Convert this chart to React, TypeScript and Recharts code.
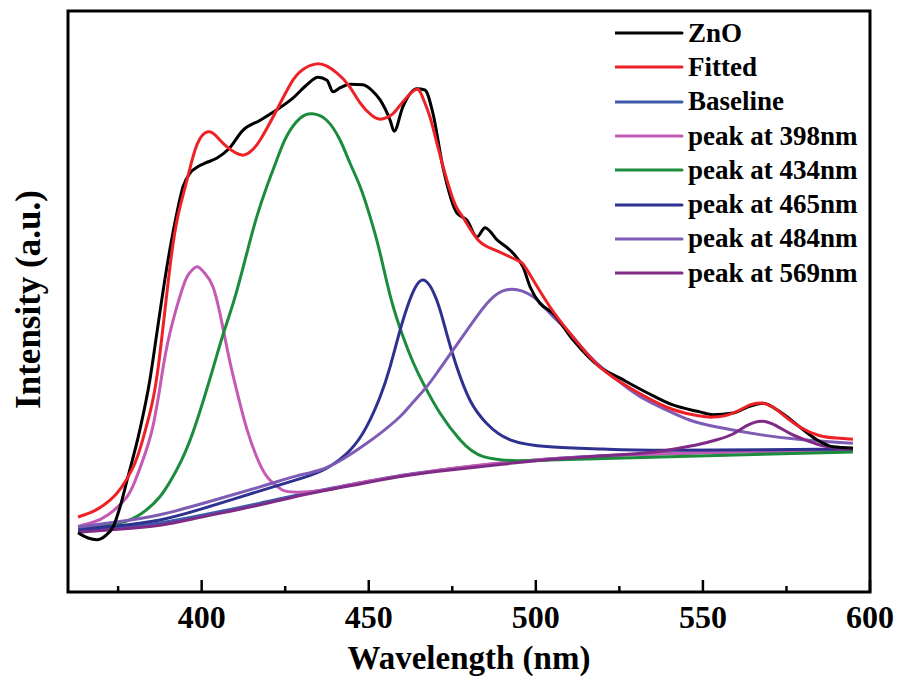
import { Legend, Line, LineChart, ReferenceArea, XAxis, YAxis } from "recharts";

// [wavelength nm, intensity a.u.]
const znoData: [number, number][] = [
  [363, 10.2], [366, 9.3], [368.7, 9.0], [371, 9.6], [373.5, 11.2], [375.5, 14.5], [377.7, 19.3], [381.5, 27.9],
  [384.5, 36.5], [386.6, 44.6], [388.5, 52], [390.5, 59], [392.5, 65], [394.4, 69.7], [396.5, 72.1], [398.6, 73.1],
  [401, 73.8], [404.6, 74.7], [408, 76.2], [412.4, 79.5], [417.5, 81.2], [422.5, 83.0], [427.3, 85.0], [431.5, 87.3],
  [434.8, 88.6], [437.5, 88.1], [439.3, 86.1], [441.5, 86.8], [444.4, 87.4], [448.3, 87.3], [451, 86.3], [453.4, 84.7],
  [456.4, 81.2], [457.6, 79.3], [460.2, 83.5], [464.4, 86.6], [466.8, 86.4], [469.2, 82.4], [472.2, 73.1], [476.4, 65.2],
  [479.4, 64.0], [482.4, 61.1], [484.8, 62.7], [488.4, 60.6], [493.2, 58.3], [496.2, 55.9], [498.3, 52.5], [501.2, 49.7],
  [505.1, 48.0], [511.1, 43.4], [519.2, 38.7], [525.2, 36.8], [533.3, 34.3], [541, 32.2], [549.1, 31.0], [553, 30.5],
  [559, 30.8], [563.2, 31.8], [568, 32.5], [573.1, 31.0], [579, 28.4], [584.1, 26.2], [588.9, 25.0], [594.9, 24.8],
];

const fittedData: [number, number][] = [
  [363, 12.9], [368, 14.0], [372.6, 15.8], [376, 18], [379.5, 21.5], [382, 25.5], [384.5, 30.8], [387, 38.7],
  [390.5, 55.9], [393, 65], [395.6, 70.9], [398.6, 77.0], [401.9, 79.2], [404.5, 78.4], [407.6, 76.6], [412.1, 75.2],
  [415, 76], [417.5, 77.8], [422.5, 83.0], [427.3, 88.1], [431, 90.2], [434.5, 90.9], [437.5, 90.5], [440.5, 89.3],
  [444, 87.2], [447.4, 84.2], [451, 82], [454, 81.4], [457, 82.2], [459.4, 83.8], [463.8, 86.4], [466, 85.3],
  [468.3, 81.8], [470.5, 77], [473.4, 70.9], [476, 66.5], [478.2, 64.5], [482.7, 60.6], [488, 58.8], [494.4, 57.1],
  [497.4, 55.4], [504.2, 49.1], [511.1, 43.9], [519.2, 38.7], [529.1, 34.8], [539.2, 31.8], [547, 30.5], [553, 30.1],
  [559, 30.8], [564.1, 32.2], [568, 32.5], [571, 31.8], [574, 30.5], [579, 28.4], [585, 26.9], [590, 26.5], [594.9, 26.3],
];

const baselineData: [number, number][] = [
  [363, 10.7], [375, 11.1], [387.5, 11.9], [400, 13.2], [417.5, 15.3], [432, 17.1], [447.4, 18.8], [461, 20.2],
  [474.3, 21.2], [490, 22.2], [509.3, 23.1], [530, 23.7], [559, 24.1], [594.9, 24.4],
];

const peak398Data: [number, number][] = [
  [363, 11.3], [367.5, 12.0], [372, 13.3], [377.7, 16.4], [381, 20.5], [385, 27.5], [388, 37], [390.5, 44.6],
  [394.4, 52.5], [396.5, 55.0], [398.6, 56.0], [400.7, 55.0], [403.4, 52.5], [406, 46.5], [408.5, 39.5], [411, 33.5],
  [413.6, 27.9], [416.5, 23.2], [419.6, 19.8], [423, 18], [427.3, 17.2], [437.5, 17.6], [447.4, 18.8], [474.3, 21.2],
  [509.3, 23.1], [559, 24.1], [594.9, 24.4],
];

const peak434Data: [number, number][] = [
  [363, 11.0], [375.6, 11.9], [382, 13.5], [387.5, 16.4], [392.5, 21], [397.4, 27.5], [403.4, 38.5], [406.5, 44.5],
  [410, 50.8], [413.5, 58.3], [416.5, 64.6], [419.5, 69.8], [422.5, 74.4], [425.4, 78.4], [429.4, 81.5], [433.1, 82.3],
  [437.4, 81.2], [441.4, 77.8], [444.4, 73.8], [447.4, 69.8], [450.4, 64.6], [453.4, 58.3], [456.6, 50.6], [460.3, 43.9],
  [463.3, 39.5], [466.3, 35.9], [471.3, 30.8], [477.3, 26.2], [484.3, 23.3], [494.3, 22.6], [504.2, 22.7], [540, 23.3],
  [594.9, 24.1],
];

const peak465Data: [number, number][] = [
  [363, 10.8], [375, 11.4], [387.5, 12.4], [400, 14.3], [417.5, 17.4], [430, 19.6], [437.4, 21.3], [444.4, 24.4],
  [449.4, 28.5], [453.4, 33.6], [456.4, 38.8], [459.4, 45.1], [462.3, 50.3], [466.1, 53.7], [470.3, 50.3], [473.3, 44.5],
  [476.3, 38.8], [480.3, 33.0], [485.3, 29.0], [492.3, 26.2], [504.2, 25.0], [520, 24.6], [540, 24.4], [594.9, 24.6],
];

const peak484Data: [number, number][] = [
  [363, 11.2], [375, 12.1], [387.5, 13.3], [400, 15.2], [417.5, 18.1], [428, 19.9], [435.4, 21.0], [442.3, 22.9],
  [449.4, 25.6], [454.3, 27.7], [459.4, 30.2], [463, 32.5], [467.3, 35.3], [471, 38.2], [475.3, 41.7], [482.3, 47.4],
  [487.3, 50.8], [492.8, 52.1], [499.2, 50.8], [504.2, 48.0], [510, 44.6], [515.3, 41.1], [520, 38.5], [524.3, 36.5],
  [531, 33.7], [539.2, 31.3], [546, 29.6], [554.2, 28.4], [568, 27.0], [580, 26.2], [594.9, 25.6],
];

const peak569Data: [number, number][] = [
  [363, 10.3], [375, 10.8], [387.5, 11.5], [400, 12.9], [417.5, 15.0], [432, 16.9], [447.4, 18.6], [461, 20.0],
  [474.3, 21.0], [490, 22.0], [509.3, 23.0], [530, 23.8], [539.2, 24.4], [548, 25.3], [554.2, 26.2], [559, 27.2],
  [563, 28.6], [567.7, 29.4], [572, 28.6], [576, 27.3], [580, 26.3], [585, 25.3], [590, 24.8], [594.9, 24.6],
];

const xTicks = [375, 400, 425, 450, 475, 500, 525, 550, 575, 600];

const legendNames = ["ZnO", "Fitted", "Baseline", "peak at 398nm", "peak at 434nm", "peak at 465nm", "peak at 484nm", "peak at 569nm"];
const legendColors = ["#000000", "#ee2226", "#3f5bab", "#c45ab3", "#1a8c3c", "#2e3190", "#7e5cb6", "#7f2a87"];

const FONT = '"Liberation Serif", "Times New Roman", serif';

const toPoints = (d: [number, number][]) => d.map(([x, y]) => ({ x, y }));

function WaveTick(props: any) {
  const { x, y, payload } = props;
  const major = payload.value % 50 === 0;
  return (
    <g>
      <line x1={x} y1={y} x2={x} y2={y - (major ? 12 : 6)} stroke="#000" strokeWidth={2.5} />
      {major && (
        <text x={x} y={y + 36} textAnchor="middle" fontFamily={FONT} fontWeight="bold" fontSize={32} fill="#000">
          {payload.value}
        </text>
      )}
    </g>
  );
}

function XTitle(props: any) {
  const { viewBox } = props;
  return (
    <text x={viewBox.x + viewBox.width / 2} y={viewBox.y + 77} textAnchor="middle" fontFamily={FONT} fontWeight="bold" fontSize={33} fill="#000">
      Wavelength (nm)
    </text>
  );
}

function YTitle(props: any) {
  const { viewBox } = props;
  const cx = viewBox.x + viewBox.width / 2 - 6;
  const cy = viewBox.y + viewBox.height / 2 - 2;
  return (
    <text x={cx} y={cy} transform={`rotate(-90 ${cx} ${cy})`} textAnchor="middle" dominantBaseline="central" fontFamily={FONT} fontWeight="bold" fontSize={35} fill="#000">
      Intensity (a.u.)
    </text>
  );
}

function LegendBox() {
  return (
    <div style={{ fontFamily: FONT, fontWeight: "bold", fontSize: 27, color: "#000" }}>
      {legendNames.map((name, i) => (
        <div key={name} style={{ height: 34.3, display: "flex", alignItems: "center", whiteSpace: "nowrap" }}>
          <svg width={73} height={10} style={{ flex: "none" }}>
            <line x1={0} y1={5} x2={67} y2={5} stroke={legendColors[i]} strokeWidth={3} strokeLinecap="round" />
          </svg>
          <span>{name}</span>
        </div>
      ))}
    </div>
  );
}

export default function App() {
  const lineProps = { type: "natural" as const, dataKey: "y", dot: false, strokeWidth: 3, isAnimationActive: false, activeDot: false };
  return (
    <div style={{ position: "absolute", left: 0, top: 0 }}>
      <LineChart width={901} height={677} margin={{ top: 11, right: 31, left: 0, bottom: 0 }}>
        <XAxis
          dataKey="x"
          type="number"
          domain={[360, 600]}
          ticks={xTicks}
          allowDataOverflow
          height={85}
          axisLine={false}
          tickLine={false}
          tickSize={0}
          tickMargin={0}
          tick={<WaveTick />}
          label={<XTitle />}
        />
        <YAxis type="number" domain={[0, 100]} width={68} tick={false} tickLine={false} axisLine={false} allowDataOverflow label={<YTitle />} />
        <Line {...lineProps} data={toPoints(baselineData)} name="Baseline" stroke={legendColors[2]} />
        <Line {...lineProps} data={toPoints(peak398Data)} name="peak at 398nm" stroke={legendColors[3]} />
        <Line {...lineProps} data={toPoints(peak434Data)} name="peak at 434nm" stroke={legendColors[4]} />
        <Line {...lineProps} data={toPoints(peak465Data)} name="peak at 465nm" stroke={legendColors[5]} />
        <Line {...lineProps} data={toPoints(peak484Data)} name="peak at 484nm" stroke={legendColors[6]} />
        <Line {...lineProps} data={toPoints(peak569Data)} name="peak at 569nm" stroke={legendColors[7]} />
        <Line {...lineProps} type="monotone" data={toPoints(znoData)} name="ZnO" stroke={legendColors[0]} />
        <Line {...lineProps} data={toPoints(fittedData)} name="Fitted" stroke={legendColors[1]} />
        <ReferenceArea x1={360} x2={600} y1={0} y2={100} fill="none" stroke="#000" strokeWidth={3} ifOverflow="visible" />
        <Legend
          layout="vertical"
          align="center"
          verticalAlign="middle"
          wrapperStyle={{ left: 615, top: 16, width: 270 }}
          content={() => <LegendBox />}
        />
      </LineChart>
    </div>
  );
}
